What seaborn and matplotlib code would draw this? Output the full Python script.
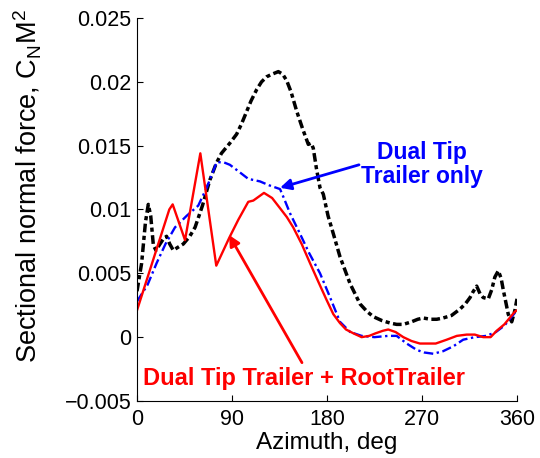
import matplotlib
matplotlib.use("Agg")
import matplotlib.pyplot as plt
import seaborn as sns
import pandas as pd

# ---- data ----
black_az = [0, 4.4, 8, 10.7, 13, 15.5, 18, 21.8, 25, 28, 31, 34.4, 38, 43.9, 50, 55, 62, 69, 75,
            80, 85, 88, 94.4, 99, 104, 108, 113.4, 118, 122.9, 128, 133.9, 138, 141.8, 146, 151.3,
            157, 162.3, 165, 167, 170, 173.4, 176.5, 181, 186, 192.3, 201.8, 211.3, 218, 224, 232,
            240, 246, 252.3, 260, 266, 271.2, 278, 284, 290, 298, 306, 311, 315.5, 318, 321.8, 325,
            328, 332.8, 336, 339, 342.3, 345, 347, 349.5, 351.7, 355, 358, 360]
black_cn = [0.0036, 0.0058, 0.0090, 0.0104, 0.0095, 0.0072, 0.0068, 0.0073, 0.0077, 0.0079, 0.0073,
            0.0068, 0.0070, 0.0073, 0.0079, 0.0086, 0.0103, 0.0123, 0.0136, 0.0144, 0.0149, 0.0152,
            0.0159, 0.0167, 0.0177, 0.0185, 0.0194, 0.0200, 0.0204, 0.0206, 0.0208, 0.0206, 0.0201,
            0.0192, 0.0177, 0.0163, 0.0151, 0.0152, 0.0148, 0.0132, 0.0117, 0.0112, 0.0095, 0.0081,
            0.0063, 0.0042, 0.0026, 0.0020, 0.0016, 0.0013, 0.0011, 0.0010, 0.0010, 0.0012, 0.0014,
            0.0015, 0.0014, 0.0014, 0.0015, 0.0017, 0.0022, 0.0026, 0.0031, 0.0035, 0.0040, 0.0034,
            0.0031, 0.0030, 0.0037, 0.0047, 0.0052, 0.0046, 0.0037, 0.0027, 0.0018, 0.0012, 0.0021,
            0.0030]

blue_az = [0, 10, 18.6, 27, 36, 47, 58, 66, 75.5, 82, 88, 96, 105.4, 116.5, 125, 135.5, 138.6, 145,
           154.4, 163, 173.4, 182, 192.3, 202, 212.8, 225, 238, 246, 255.5, 265, 272, 280.7, 290,
           300, 309, 320, 331, 340, 348, 355, 360]
blue_cn = [0.0028, 0.0041, 0.0058, 0.0073, 0.0086, 0.0095, 0.0103, 0.0117, 0.0137, 0.0137, 0.0135,
           0.0130, 0.0124, 0.0122, 0.0119, 0.0116, 0.0110, 0.0097, 0.0081, 0.0066, 0.0050, 0.0033,
           0.0012, 0.0004, 0.0001, 0.0000, 0.0001, 0.0001, -0.0005, -0.0010, -0.0012, -0.0013,
           -0.0011, -0.0007, -0.0002, 0.0000, 0.0001, 0.0004, 0.0009, 0.0016, 0.0021]

red_az = [0, 30.6, 33.8, 45.5, 60, 75.1, 87.5, 96, 105.4, 110.2, 120.3, 128, 135.5, 142, 148, 156,
          163.9, 172, 179.7, 186, 192.3, 198, 205, 212.8, 220, 226, 233, 238, 245, 252.3, 260, 268,
          274.4, 283, 293.4, 303, 312.3, 320, 328, 335, 340.8, 348, 354, 358, 360]
red_cn = [0.0021, 0.0100, 0.0104, 0.0076, 0.0144, 0.0056, 0.0078, 0.0092, 0.0106, 0.0107, 0.0113,
          0.0109, 0.0101, 0.0094, 0.0086, 0.0073, 0.0058, 0.0043, 0.0029, 0.0018, 0.0011, 0.0006,
          0.0003, 0.0000, 0.0001, 0.0003, 0.0005, 0.0006, 0.0004, 0.0000, -0.0003, -0.0005, -0.0005,
          -0.0005, -0.0002, 0.0001, 0.0002, 0.0002, 0.0000, 0.0000, 0.0005, 0.0010, 0.0016, 0.0020,
          0.0021]

x_ticks = [0, 90, 180, 270, 360]
x_tick_labels = ["0", "90", "180", "270", "360"]
y_ticks = [-0.005, 0, 0.005, 0.01, 0.015, 0.02, 0.025]
y_tick_labels = ["\u22120.005", "0", "0.005", "0.01", "0.015", "0.02", "0.025"]

label_blue = "Dual Tip\nTrailer only"
label_red = "Dual Tip Trailer + RootTrailer"
x_label = "Azimuth, deg"
y_label = r"Sectional normal force, C$_{\mathregular{N}}$M$^{\mathregular{2}}$"

# ---- style ----
sns.set_style("ticks")
plt.rcParams["font.family"] = ["Liberation Sans", "DejaVu Sans"]
plt.rcParams["mathtext.default"] = "regular"
plt.rcParams["text.color"] = "black"
plt.rcParams["axes.labelcolor"] = "black"

fig = plt.figure(figsize=(5.4, 4.58), dpi=100)
ax = fig.add_axes([0.2537, 0.1245, 0.7037, 0.8362])

df_k = pd.DataFrame({"az": black_az, "cn": black_cn})
df_b = pd.DataFrame({"az": blue_az, "cn": blue_cn})
df_r = pd.DataFrame({"az": red_az, "cn": red_cn})

sns.lineplot(data=df_k, x="az", y="cn", ax=ax, color="black", lw=2.5,
             linestyle=(0, (2.5, 1.0, 1.2, 1.0)))
sns.lineplot(data=df_b, x="az", y="cn", ax=ax, color="#0000ff", lw=1.7,
             linestyle=(0, (4, 1.5, 1, 1.5)))
sns.lineplot(data=df_r, x="az", y="cn", ax=ax, color="#ff0000", lw=1.7)

ax.set_xlim(0, 360)
ax.set_ylim(-0.005, 0.025)
ax.set_xticks(x_ticks)
ax.set_xticklabels(x_tick_labels)
ax.set_yticks(y_ticks)
ax.set_yticklabels(y_tick_labels)
ax.tick_params(direction="in", length=4, width=0.8, labelsize=15.5, colors="black")
ax.tick_params(axis="x", pad=6)
ax.tick_params(axis="y", pad=4)
for s in ["top", "right"]:
    ax.spines[s].set_visible(False)
for s in ["left", "bottom"]:
    ax.spines[s].set_linewidth(0.8)
    ax.spines[s].set_color("black")

ax.set_xlabel(x_label, fontsize=17.5, labelpad=1, color="black")
ax.set_ylabel(y_label, fontsize=19.5, color="black")
ax.yaxis.set_label_coords(-0.245, 0.56)

ax.annotate("", xy=(135.5, 0.0117), xytext=(210.3, 0.0135),
            arrowprops=dict(arrowstyle="-|>", color="#0000ff", lw=2, mutation_scale=16,
                            shrinkA=0, shrinkB=0))
ax.text(270, 0.0135, label_blue, color="#0000ff", fontsize=16.5, fontweight="bold",
        ha="center", va="center", linespacing=1.05)

ax.annotate("", xy=(87.2, 0.0080), xytext=(156.3, -0.0020),
            arrowprops=dict(arrowstyle="-|>", color="#ff0000", lw=2, mutation_scale=16,
                            shrinkA=0, shrinkB=0))
ax.text(158, -0.0032, label_red, color="#ff0000", fontsize=17, fontweight="bold",
        ha="center", va="center")

fig.savefig("out.png", dpi=100)
